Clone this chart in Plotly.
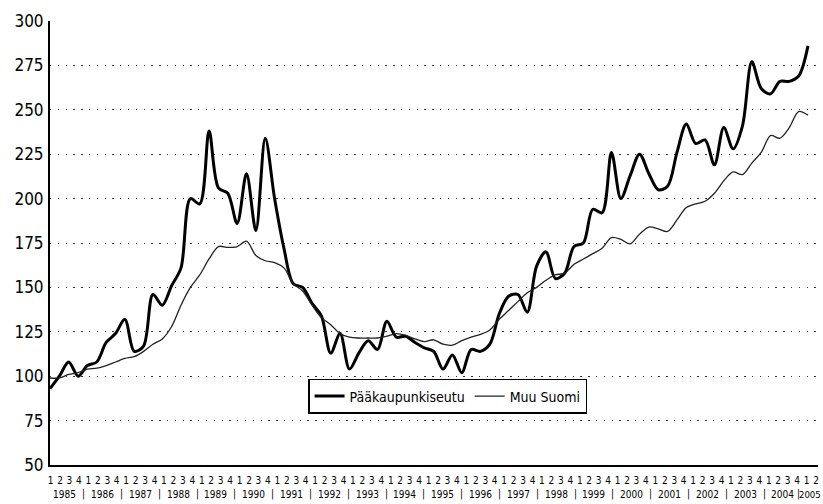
import plotly.graph_objects as go

# Quarterly index, 1985Q1 .. 2005Q2
years = list(range(1985, 2006))
quarter_labels = ["1", "2", "3", "4"] * 20 + ["1", "2"]

paakaupunkiseutu = [
    93, 100, 108, 100, 106, 108, 119, 124, 132, 114,
    117, 146, 140, 151, 161, 200, 197, 238, 206, 203,
    186, 214, 182, 234, 200, 172, 152, 150, 141, 134,
    113, 124, 104, 113, 120, 115, 131, 122, 122.5, 119,
    116, 114, 104, 112, 102, 115, 114, 118, 135, 145,
    146, 136, 162, 170, 155, 158, 173, 175, 194, 192,
    226, 200, 213, 225, 214, 205, 207, 226, 242, 231,
    233, 219, 240, 228, 241, 277, 262, 259, 266, 266,
    269, 286,
]

muu_suomi = [
    99, 99, 101, 102, 104, 104.5, 106, 108, 110, 111,
    114, 118, 121, 128, 140, 150, 157, 166, 173, 172.5,
    173, 176, 168, 165, 164, 161, 152, 148, 140, 133,
    129, 124, 122, 121.5, 121.5, 121.5, 122.5, 124, 123, 121,
    119.5, 120.5, 118, 117.5, 120, 122, 123.5, 126, 132, 137,
    142, 147, 150, 154, 157, 158, 163, 166, 169, 172,
    178, 177, 174.5, 180, 184, 183, 181.5, 188, 195, 197,
    198.5, 203, 210, 215, 213.5, 220, 226, 235.5, 234, 240,
    249, 247,
]

y_ticks = [50, 75, 100, 125, 150, 175, 200, 225, 250, 275, 300]

FONT = "DejaVu Sans Condensed, Liberation Sans Narrow, DejaVu Sans, sans-serif"

idx = list(range(len(paakaupunkiseutu)))

fig = go.Figure()
fig.add_trace(go.Scatter(
    x=idx, y=paakaupunkiseutu, mode="lines", name="Pääkaupunkiseutu",
    line=dict(color="#000000", width=3, shape="spline", smoothing=0.9),
))
fig.add_trace(go.Scatter(
    x=idx, y=muu_suomi, mode="lines", name="Muu Suomi",
    line=dict(color="#222222", width=1.3, shape="spline", smoothing=0.9),
))
# invisible trace to activate the label axis
fig.add_trace(go.Scatter(x=[0], y=[50], xaxis="x2", mode="markers",
                         marker=dict(opacity=0), showlegend=False,
                         hoverinfo="skip"))

YEAR_Y = -0.0833
annotations = []
for k, yr in enumerate(years):
    if yr == 2005:
        annotations.append(dict(x=1.0065, y=YEAR_Y, xref="paper", yref="paper",
                                xanchor="right", text=str(yr), showarrow=False,
                                font=dict(family=FONT, size=9.5, color="#000")))
    else:
        annotations.append(dict(x=4 * k + 1.5, y=YEAR_Y, xref="x2", yref="paper",
                                text=str(yr), showarrow=False,
                                font=dict(family=FONT, size=10, color="#000")))
    if k > 0:
        sep_x = 4 * k - 0.5 if yr != 2005 else 4 * k - 0.9
        annotations.append(dict(x=sep_x, y=YEAR_Y, xref="x2", yref="paper",
                                text="|", showarrow=False,
                                font=dict(family=FONT, size=10, color="#000")))

fig.update_layout(
    width=823, height=504,
    margin=dict(l=50, r=5, t=21, b=39),
    paper_bgcolor="white", plot_bgcolor="white",
    font=dict(family=FONT, color="#000"),
    showlegend=True,
    legend=dict(
        orientation="h", x=0.336, y=0.1937, xanchor="left", yanchor="top",
        bgcolor="white", bordercolor="#000", borderwidth=1.5,
        font=dict(family=FONT, size=14, color="#000"),
        itemwidth=30, tracegroupgap=0,
    ),
    xaxis=dict(
        range=[0, 82.07], showgrid=False, zeroline=False,
        showline=True, linecolor="#000", linewidth=2,
        showticklabels=False, ticks="", automargin=False,
    ),
    xaxis2=dict(
        overlaying="x", anchor="y", side="bottom",
        range=[-0.06, 81.21], showgrid=False, zeroline=False, showline=False,
        tickmode="array", tickvals=idx, ticktext=quarter_labels,
        ticks="", ticklabelstandoff=8, automargin=False,
        tickfont=dict(family=FONT, size=10, color="#000"),
    ),
    yaxis=dict(
        range=[50, 300], tickmode="array", tickvals=y_ticks,
        showgrid=True, gridcolor="#333333", gridwidth=1.3, griddash="1.3px,6.5px",
        zeroline=False, showline=True, linecolor="#000", linewidth=2,
        ticks="", ticklabelstandoff=1, automargin=False,
        tickfont=dict(family=FONT, size=17, color="#000"),
    ),
    annotations=annotations,
)

fig.write_html("out.html",
               config={"displayModeBar": False},
               post_script="document.body.style.margin='0';document.body.style.overflow='hidden';")
